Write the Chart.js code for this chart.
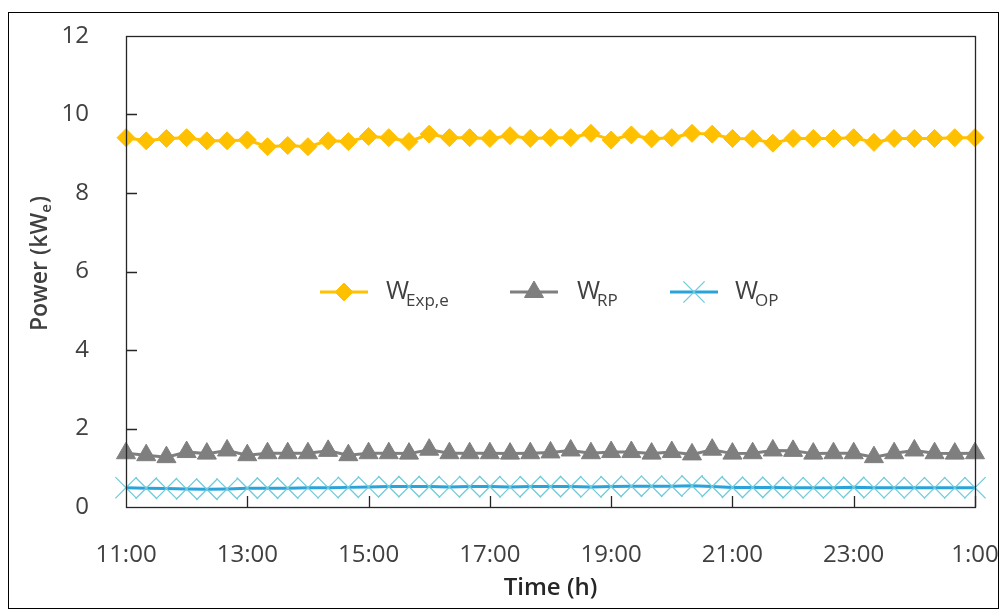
<!DOCTYPE html>
<html lang="en">
<head>
  <meta charset="UTF-8" />
  <title>Power vs Time</title>
  <script src="https://cdn.jsdelivr.net/npm/chart.js"></script>
  <style>
    body {
      margin: 0;
      background: #fff;
    }
    #wrap {
      width: 1003px;
      height: 610px;
    }
  </style>
</head>
<body>
  <div id="wrap"><canvas id="powerChart" width="1003" height="610"></canvas></div>

  <script>
    // sample times, every 20 minutes from 11:00 to 1:00
    const times = [
      '11:00', '11:20', '11:40', '12:00', '12:20', '12:40', '13:00', '13:20', '13:40',
      '14:00', '14:20', '14:40', '15:00', '15:20', '15:40', '16:00', '16:20', '16:40',
      '17:00', '17:20', '17:40', '18:00', '18:20', '18:40', '19:00', '19:20', '19:40',
      '20:00', '20:20', '20:40', '21:00', '21:20', '21:40', '22:00', '22:20', '22:40',
      '23:00', '23:20', '23:40', '0:00', '0:20', '0:40', '1:00'
    ];

    // kWe
    const wExp = [
      9.41, 9.33, 9.39, 9.41, 9.33, 9.33, 9.35, 9.18, 9.21, 9.18, 9.33, 9.31, 9.44, 9.41,
      9.31, 9.50, 9.41, 9.41, 9.39, 9.46, 9.39, 9.41, 9.41, 9.52, 9.35, 9.48, 9.38, 9.41,
      9.52, 9.50, 9.39, 9.38, 9.27, 9.39, 9.39, 9.39, 9.41, 9.29, 9.39, 9.39, 9.39, 9.41, 9.41
    ];
    const wRP = [
      1.37, 1.32, 1.27, 1.40, 1.36, 1.44, 1.32, 1.37, 1.37, 1.37, 1.43, 1.32, 1.37, 1.37,
      1.36, 1.46, 1.37, 1.37, 1.37, 1.36, 1.37, 1.39, 1.44, 1.37, 1.40, 1.40, 1.36, 1.40,
      1.34, 1.46, 1.36, 1.37, 1.44, 1.43, 1.36, 1.37, 1.37, 1.27, 1.37, 1.44, 1.37, 1.36, 1.37
    ];
    const wOP = [
      0.49, 0.48, 0.47, 0.46, 0.45, 0.46, 0.48, 0.48, 0.48, 0.49, 0.49, 0.50, 0.51, 0.52,
      0.52, 0.52, 0.51, 0.52, 0.52, 0.51, 0.52, 0.52, 0.52, 0.51, 0.52, 0.53, 0.53, 0.53,
      0.54, 0.52, 0.50, 0.50, 0.50, 0.49, 0.49, 0.49, 0.50, 0.49, 0.49, 0.49, 0.49, 0.49, 0.49
    ];

    const yTicks = [2, 4, 6, 8, 10];
    const labelEvery = 6;

    const textColor = '#404040';
    const axisColor = '#262626';
    const fontFamily = '"Open Sans", "Noto Sans", sans-serif';

    const legendItems = [
      { main: 'W', sub: 'Exp,e', color: '#FFC000', style: 'rectRot', radius: 9, fill: '#FFC000', lineX: 320, textX: 386 },
      { main: 'W', sub: 'RP', color: '#7F7F7F', style: 'triangle', radius: 11, fill: '#7F7F7F', lineX: 510, textX: 577 },
      { main: 'W', sub: 'OP', color: '#2AA3DA', style: 'crossRot', radius: 15, fill: '#6FCBDA', lineX: 670, textX: 735 }
    ];

    const framePlugin = {
      id: 'frame',
      afterDraw(chart) {
        const ctx = chart.ctx;
        const area = chart.chartArea;
        const xs = chart.scales.x;
        const ys = chart.scales.y;
        ctx.save();

        // plot frame
        ctx.strokeStyle = axisColor;
        ctx.lineWidth = 1.3;
        ctx.strokeRect(Math.round(area.left) + 0.5, Math.round(area.top) + 0.5,
          Math.round(area.right - area.left), Math.round(area.bottom - area.top));

        // inside tick marks
        ctx.beginPath();
        yTicks.forEach(v => {
          const y = Math.round(ys.getPixelForValue(v)) + 0.5;
          ctx.moveTo(area.left, y);
          ctx.lineTo(area.left + 11, y);
        });
        times.forEach((t, i) => {
          if (i % labelEvery !== 0 || i === 0) return;
          const x = Math.round(xs.getPixelForValue(i)) + 0.5;
          ctx.moveTo(x, area.bottom);
          ctx.lineTo(x, area.bottom - 11);
        });
        ctx.stroke();

        // legend in the middle of the plot
        const ly = 292;
        legendItems.forEach(item => {
          ctx.strokeStyle = item.color;
          ctx.lineWidth = 3;
          ctx.beginPath();
          ctx.moveTo(item.lineX, ly);
          ctx.lineTo(item.lineX + 48, ly);
          ctx.stroke();
          ctx.fillStyle = item.fill;
          ctx.strokeStyle = item.style === 'crossRot' ? item.fill : item.color;
          ctx.lineWidth = item.style === 'crossRot' ? 1.3 : 1;
          Chart.helpers.drawPoint(ctx, { pointStyle: item.style, radius: item.radius, rotation: 0, borderWidth: ctx.lineWidth },
            item.lineX + 24, ly);

          ctx.fillStyle = textColor;
          ctx.textAlign = 'left';
          ctx.textBaseline = 'alphabetic';
          ctx.font = '25px ' + fontFamily;
          ctx.fillText(item.main, item.textX, 299);
          const w = ctx.measureText(item.main).width;
          ctx.font = '17px ' + fontFamily;
          ctx.fillText(item.sub, item.textX + w - 3, 306);
        });

        // y axis title with subscript
        ctx.save();
        ctx.translate(40, 264);
        ctx.rotate(-Math.PI / 2);
        ctx.fillStyle = textColor;
        ctx.textBaseline = 'middle';
        ctx.textAlign = 'left';
        const mainFont = '600 23px ' + fontFamily;
        const subFont = '600 15px ' + fontFamily;
        ctx.font = mainFont;
        const p1 = 'Power (kW';
        const w1 = ctx.measureText(p1).width;
        const w3 = ctx.measureText(')').width;
        ctx.font = subFont;
        const w2 = ctx.measureText('e').width;
        let x0 = -(w1 + w2 + w3) / 2;
        ctx.font = mainFont;
        ctx.fillText(p1, x0, 0);
        ctx.font = subFont;
        ctx.fillText('e', x0 + w1, 7);
        ctx.font = mainFont;
        ctx.fillText(')', x0 + w1 + w2 + 1, 0);
        ctx.restore();

        // outer border
        ctx.strokeStyle = '#000';
        ctx.lineWidth = 1;
        ctx.strokeRect(8.5, 12.5, 990, 596);
        ctx.restore();
      }
    };

    new Chart(document.getElementById('powerChart').getContext('2d'), {
      type: 'line',
      data: {
        labels: times,
        datasets: [
          {
            label: 'W Exp,e',
            data: wExp,
            borderColor: '#FFC000',
            backgroundColor: '#FFC000',
            borderWidth: 3,
            pointStyle: 'rectRot',
            pointRadius: 9,
            pointBorderWidth: 1,
            tension: 0,
            clip: false
          },
          {
            label: 'W RP',
            data: wRP,
            borderColor: '#7F7F7F',
            backgroundColor: '#7F7F7F',
            borderWidth: 3,
            pointStyle: 'triangle',
            pointRadius: 11,
            pointBorderWidth: 1,
            tension: 0,
            clip: false
          },
          {
            label: 'W OP',
            data: wOP,
            borderColor: '#2AA3DA',
            backgroundColor: '#6FCBDA',
            pointBorderColor: '#6FCBDA',
            borderWidth: 3,
            pointStyle: 'crossRot',
            pointRadius: 15,
            pointBorderWidth: 1.3,
            tension: 0,
            clip: false
          }
        ]
      },
      options: {
        responsive: false,
        animation: false,
        layout: { padding: { top: 36, right: 28, left: 0, bottom: 0 } },
        plugins: {
          legend: { display: false },
          tooltip: { enabled: false }
        },
        scales: {
          x: {
            type: 'category',
            offset: false,
            grid: { display: false },
            border: { display: false },
            ticks: {
              autoSkip: false,
              maxRotation: 0,
              color: textColor,
              font: { family: fontFamily, size: 24 },
              padding: 26,
              callback: function (value, index) {
                return index % labelEvery === 0 ? times[index] : null;
              }
            },
            title: {
              display: true,
              text: 'Time (h)',
              color: '#262626',
              font: { family: fontFamily, size: 24, weight: '600' },
              padding: { top: 12, bottom: 7 }
            },
            afterFit: s => {
              s.height = 103;
              s.paddingLeft = 0;
              s.paddingRight = 0;
            }
          },
          y: {
            min: 0,
            max: 12,
            grid: { display: false },
            border: { display: false },
            ticks: {
              stepSize: 2,
              color: textColor,
              font: { family: fontFamily, size: 24 },
              padding: 29
            },
            afterFit: s => {
              s.width = 126;
              s.paddingTop = 0;
              s.paddingBottom = 0;
            }
          }
        }
      },
      plugins: [framePlugin]
    });
  </script>
</body>
</html>
